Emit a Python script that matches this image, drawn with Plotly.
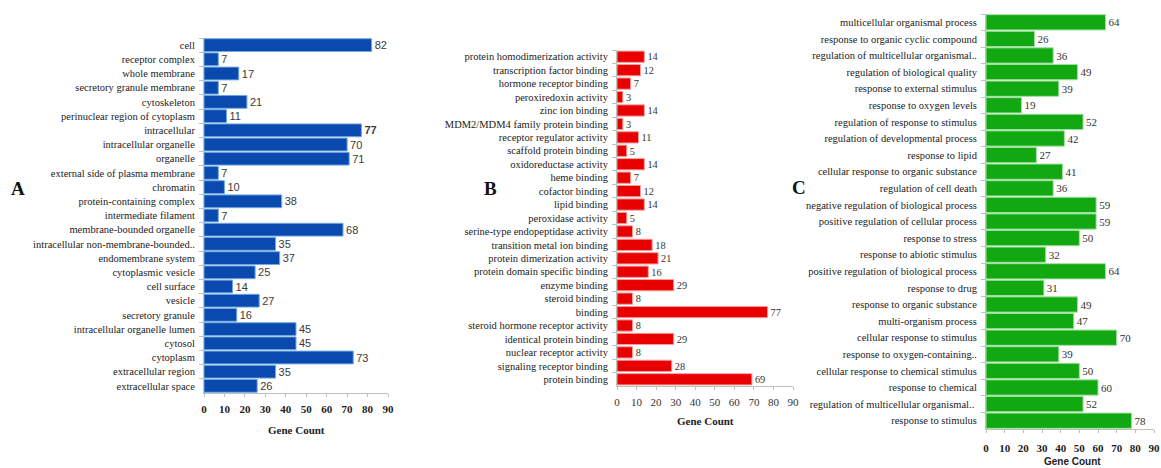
import plotly.graph_objects as go

W, H = 1161, 468

# Panel A: cellular component
cc_terms = [
    "cell", "receptor complex", "whole membrane", "secretory granule membrane",
    "cytoskeleton", "perinuclear region of cytoplasm", "intracellular",
    "intracellular organelle", "organelle", "external side of plasma membrane",
    "chromatin", "protein-containing complex", "intermediate filament",
    "membrane-bounded organelle", "intracellular non-membrane-bounded..",
    "endomembrane system", "cytoplasmic vesicle", "cell surface", "vesicle",
    "secretory granule", "intracellular organelle lumen", "cytosol",
    "cytoplasm", "extracellular region", "extracellular space",
]
cc_counts = [82, 7, 17, 7, 21, 11, 77, 70, 71, 7, 10, 38, 7, 68, 35, 37, 25,
             14, 27, 16, 45, 45, 73, 35, 26]

# Panel B: molecular function
mf_terms = [
    "protein homodimerization activity", "transcription factor binding",
    "hormone receptor binding", "peroxiredoxin activity", "zinc ion binding",
    "MDM2/MDM4 family protein binding", "receptor regulator activity",
    "scaffold protein binding", "oxidoreductase activity", "heme binding",
    "cofactor binding", "lipid binding", "peroxidase activity",
    "serine-type endopeptidase activity", "transition metal ion binding",
    "protein dimerization activity", "protein domain specific binding",
    "enzyme binding", "steroid binding", "binding",
    "steroid hormone receptor activity", "identical protein binding",
    "nuclear receptor activity", "signaling receptor binding", "protein binding",
]
mf_counts = [14, 12, 7, 3, 14, 3, 11, 5, 14, 7, 12, 14, 5, 8, 18, 21, 16, 29,
             8, 77, 8, 29, 8, 28, 69]

# Panel C: biological process
bp_terms = [
    "multicellular organismal process", "response to organic cyclic compound",
    "regulation of multicellular organismal..", "regulation of biological quality",
    "response to external stimulus", "response to oxygen levels",
    "regulation of response to stimulus", "regulation of developmental process",
    "response to lipid", "cellular response to organic substance",
    "regulation of cell death", "negative regulation of biological process",
    "positive regulation of cellular process", "response to stress",
    "response to abiotic stimulus", "positive regulation of biological process",
    "response to drug", "response to organic substance", "multi-organism process",
    "cellular response to stimulus", "response to oxygen-containing..",
    "cellular response to chemical stimulus", "response to chemical",
    "regulation of multicellular organismal.. ", "response to stimulus",
]
bp_counts = [64, 26, 36, 49, 39, 19, 52, 42, 27, 41, 36, 59, 59, 50, 32, 64,
             31, 49, 47, 70, 39, 50, 60, 52, 78]

x_ticks = list(range(0, 100, 10))

SERIF = "Liberation Serif, Times New Roman, serif"
SANS = "Liberation Sans, Arial, sans-serif"
AXIS_GREY = "#bfbfbf"


def px_x(v):
    return v / W


def px_y(v):
    return 1 - v / H


panels = [
    dict(terms=cc_terms, counts=cc_counts, color="#0a4aae", edge="#6fa8e0",
         x0=204, x1=388, y0=38, y1=393, width=0.9,
         val_font=dict(family=SANS, size=11, color="#3a3a3a"),
         tick_font=dict(family=SERIF, size=11, color="#222", weight="bold"),
         standoff=3, bold_idx=[6],
         letter="A", letter_xy=(18, 188),
         title_xy=(296, 430), title_font=dict(family=SERIF, size=11, color="#222", weight="bold")),
    dict(terms=mf_terms, counts=mf_counts, color="#e80000", edge="#f4a0a0",
         x0=617, x1=793, y0=50, y1=386, width=0.84,
         val_font=dict(family=SERIF, size=11, color="#333"),
         tick_font=dict(family=SERIF, size=11, color="#333"),
         standoff=3, bold_idx=[],
         letter="B", letter_xy=(490, 188),
         title_xy=(705, 421), title_font=dict(family=SERIF, size=11, color="#222", weight="bold")),
    dict(terms=bp_terms, counts=bp_counts, color="#12a812", edge="#9fe09f",
         x0=986, x1=1154, y0=14, y1=429, width=0.92,
         val_font=dict(family=SERIF, size=11, color="#333"),
         tick_font=dict(family=SERIF, size=11, color="#222", weight="bold"),
         standoff=6, bold_idx=[],
         letter="C", letter_xy=(799, 187),
         title_xy=(1072, 461), title_font=dict(family=SANS, size=10, color="#222", weight="bold")),
]

fig = go.Figure()
annotations = []

for i, p in enumerate(panels, start=1):
    xa = "x" if i == 1 else f"x{i}"
    ya = "y" if i == 1 else f"y{i}"
    labels = [f"<b>{c}</b>" if k in p["bold_idx"] else str(c)
              for k, c in enumerate(p["counts"])]
    fig.add_trace(go.Bar(
        x=p["counts"], y=p["terms"], orientation="h",
        xaxis=xa, yaxis=ya, width=p["width"],
        marker=dict(color=p["color"], line=dict(color=p["edge"], width=1)),
        text=labels, textposition="outside", textfont=p["val_font"],
        cliponaxis=False, showlegend=False,
    ))
    n = len(p["terms"])
    xkey = "xaxis" if i == 1 else f"xaxis{i}"
    ykey = "yaxis" if i == 1 else f"yaxis{i}"
    fig.layout[xkey] = dict(
        domain=[px_x(p["x0"]), px_x(p["x1"])], anchor=ya,
        range=[0, 90], tickvals=x_ticks, ticktext=[str(t) for t in x_ticks],
        showgrid=False, zeroline=False, showline=True, linecolor=AXIS_GREY,
        linewidth=1, ticks="outside", ticklen=3, tickcolor=AXIS_GREY,
        tickfont=p["tick_font"], ticklabelstandoff=p["standoff"],
        ticklabeloverflow="allow", automargin=False, fixedrange=True,
    )
    fig.layout[ykey] = dict(
        domain=[px_y(p["y1"]), px_y(p["y0"])], anchor=xa,
        type="category", categoryorder="array", categoryarray=p["terms"],
        range=[n - 0.5, -0.5], showgrid=False, zeroline=False,
        showline=True, linecolor=AXIS_GREY, linewidth=1,
        ticks="outside", ticklen=4, tickcolor=AXIS_GREY, tickson="boundaries",
        tickfont=dict(family=SERIF, size=10.5, color="#222"),
        ticklabelstandoff=6, automargin=False, fixedrange=True,
    )
    lx, ly = p["letter_xy"]
    annotations.append(dict(
        text=p["letter"], x=px_x(lx), y=px_y(ly), xref="paper", yref="paper",
        showarrow=False, xanchor="center", yanchor="middle",
        font=dict(family=SERIF, size=19, color="#111", weight="bold"),
    ))
    tx, ty = p["title_xy"]
    annotations.append(dict(
        text="Gene Count", x=px_x(tx), y=px_y(ty), xref="paper", yref="paper",
        showarrow=False, xanchor="center", yanchor="middle",
        font=p["title_font"],
    ))

fig.update_layout(
    width=W, height=H, margin=dict(l=0, r=0, t=0, b=0),
    paper_bgcolor="white", plot_bgcolor="white",
    bargap=0.1, annotations=annotations,
)

fig.write_html("out.html")
